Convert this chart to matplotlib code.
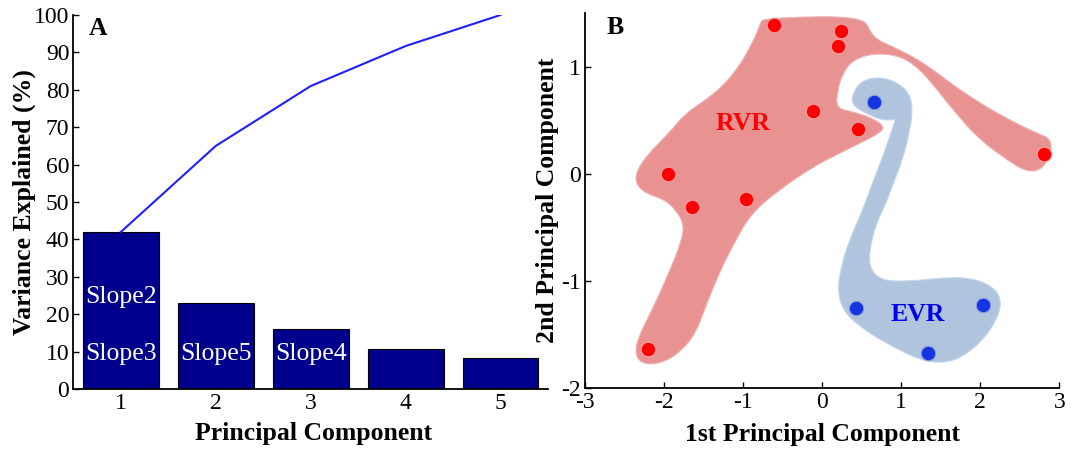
import numpy as np
import matplotlib.pyplot as plt
from matplotlib.path import Path
from matplotlib.patches import PathPatch

plt.rcParams['font.family'] = ['Liberation Serif', 'DejaVu Serif']
plt.rcParams['axes.unicode_minus'] = False

# ---- panel A: variance explained per principal component
components = [1, 2, 3, 4, 5]
variance = [42.0, 23.0, 16.0, 10.7, 8.3]
cumulative = [42.0, 65.0, 81.0, 91.7, 100.0]
slope_names = ['Slope2', 'Slope3', 'Slope5', 'Slope4']
slope_pc = [1, 1, 2, 3]
slope_y = [24.7, 9.4, 9.4, 9.4]

# ---- panel B: scores on PC1 / PC2
rvr_pc1 = [-0.61, 0.24, 0.20, -0.11, 0.45, 2.81, -1.95, -1.65, -0.96, -2.20]
rvr_pc2 = [1.39, 1.33, 1.19, 0.59, 0.42, 0.19, 0.00, -0.31, -0.23, -1.63]
evr_pc1 = [0.65, 0.43, 2.03, 1.34]
evr_pc2 = [0.67, -1.25, -1.22, -1.67]

# hand drawn group outlines (data units)
rvr_outline_x = [-0.777, -0.760, -0.253, 0.217, 0.509, 0.572, 0.619, 0.699, 0.890, 1.232,
                 1.571, 1.867, 2.286, 2.713, 2.882, 2.904, 2.840, 2.713, 2.543, 2.374,
                 1.994, 1.655, 1.359, 1.147, 0.937, 0.640, 0.386, 0.259, 0.195, 0.175,
                 0.386, 0.640, 0.788, 0.725, 0.471, 0.132, -0.113, -0.548, -0.896, -1.094,
                 -1.306, -1.475, -1.602, -1.772, -1.982, -2.236, -2.363, -2.343, -2.152, -1.940,
                 -1.772, -1.750, -1.855, -1.982, -2.236, -2.363, -2.343, -2.194, -1.940, -1.728,
                 -1.475, -1.264, -1.052, -0.883]
rvr_outline_y = [1.405, 1.445, 1.464, 1.468, 1.436, 1.389, 1.314, 1.249, 1.187, 1.062,
                 0.876, 0.720, 0.534, 0.379, 0.332, 0.223, 0.099, 0.021, 0.036, 0.114,
                 0.316, 0.596, 0.876, 1.032, 1.109, 1.125, 1.062, 0.938, 0.783, 0.612,
                 0.580, 0.519, 0.440, 0.379, 0.285, 0.160, 0.067, -0.150, -0.368, -0.617,
                 -0.927, -1.239, -1.487, -1.643, -1.752, -1.783, -1.705, -1.549, -1.270, -0.927,
                 -0.617, -0.461, -0.337, -0.243, -0.181, -0.088, 0.036, 0.192, 0.379, 0.565,
                 0.689, 0.813, 1.000, 1.218]
evr_outline_x = [0.703, 0.937, 1.105, 1.147, 1.105, 1.017, 0.890, 0.810, 0.683, 0.598,
                 0.598, 0.725, 1.063, 1.655, 1.994, 2.206, 2.269, 2.206, 2.036, 1.782,
                 1.528, 1.232, 0.810, 0.471, 0.259, 0.195, 0.239, 0.344, 0.513, 0.636,
                 0.775, 0.890, 0.928, 0.873, 0.746, 0.556, 0.407, 0.365, 0.471]
evr_outline_y = [0.907, 0.860, 0.752, 0.596, 0.391, 0.130, -0.104, -0.271, -0.461, -0.710,
                 -0.866, -0.990, -1.006, -0.959, -0.990, -1.083, -1.207, -1.363, -1.549, -1.705,
                 -1.767, -1.736, -1.580, -1.425, -1.270, -1.083, -0.866, -0.617, -0.337, -0.085,
                 0.176, 0.428, 0.512, 0.503, 0.503, 0.565, 0.627, 0.705, 0.860]


def blob(xs, ys):
    # closed quadratic spline: given points are control points, midpoints lie on the curve
    pts = np.column_stack([xs, ys])
    mids = (pts + np.roll(pts, -1, axis=0)) / 2
    verts = [mids[-1]]
    codes = [Path.MOVETO]
    for p, m in zip(pts, mids):
        verts += [p, m]
        codes += [Path.CURVE3, Path.CURVE3]
    return Path(verts, codes)


fig = plt.figure(figsize=(10.77, 4.5), dpi=100)
axA = fig.add_axes([0.0682, 0.1356, 0.4406, 0.8311])
axB = fig.add_axes([0.5432, 0.1371, 0.4404, 0.8338])

tick_fs = 17
label_fs = 18.5

# panel A
axA.bar(components, variance, width=0.8, color='#00008c', edgecolor='black', linewidth=0.8, zorder=2)
axA.plot(components, cumulative, color='#1f1fff', lw=1.5, zorder=3)
for name, pc, yy in zip(slope_names, slope_pc, slope_y):
    axA.text(pc, yy, name, color='white', fontsize=18.5, ha='center', va='center', zorder=4)
axA.set_xlim(0.5, 5.5)
axA.set_ylim(0, 100)
axA.set_xticks(components)
axA.set_yticks(np.arange(0, 101, 10))
axA.text(0.66, 96.5, 'A', fontsize=label_fs, fontweight='bold', ha='left', va='center')
axA.set_xlabel('Principal Component', fontsize=label_fs, fontweight='bold')
axA.set_ylabel('Variance Explained (%)', fontsize=label_fs, fontweight='bold')
axA.xaxis.set_label_coords(0.505, -0.088)
axA.yaxis.set_label_coords(-0.079, 0.5)

# panel B
axB.add_patch(PathPatch(blob(rvr_outline_x, rvr_outline_y), facecolor='#e99292',
                        edgecolor='#eeb0b0', lw=0.8, zorder=1))
axB.add_patch(PathPatch(blob(evr_outline_x, evr_outline_y), facecolor='#b1c4dd',
                        edgecolor='#c6d6ea', lw=0.8, zorder=1))
axB.scatter(rvr_pc1, rvr_pc2, s=110, color='#ff0000', edgecolors='#f4a0a0', linewidths=0.8, zorder=3)
axB.scatter(evr_pc1, evr_pc2, s=110, color='#1535e0', edgecolors='#8fa4de', linewidths=0.8, zorder=3)
axB.text(-1.0, 0.47, 'RVR', color='#ff0000', fontsize=label_fs, fontweight='bold', ha='center', va='center')
axB.text(1.21, -1.31, 'EVR', color='#0000ee', fontsize=label_fs, fontweight='bold', ha='center', va='center')
axB.text(-2.73, 1.37, 'B', fontsize=label_fs, fontweight='bold', ha='left', va='center')
axB.set_xlim(-3, 3)
axB.set_ylim(-2, 1.5)
axB.set_xticks([-3, -2, -1, 0, 1, 2, 3])
axB.set_yticks([-2, -1, 0, 1])
axB.set_xlabel('1st Principal Component', fontsize=label_fs, fontweight='bold')
axB.set_ylabel('2nd Principal Component', fontsize=label_fs, fontweight='bold')
axB.xaxis.set_label_coords(0.50, -0.093)
axB.yaxis.set_label_coords(-0.055, 0.5)

for ax in (axA, axB):
    ax.spines['top'].set_visible(False)
    ax.spines['right'].set_visible(False)
    ax.spines['left'].set_linewidth(1.3)
    ax.spines['bottom'].set_linewidth(1.3)
    ax.tick_params(direction='in', length=4, width=1, labelsize=tick_fs, pad=3)
    ax.set_facecolor('none')

fig.savefig('out.png', dpi=100)
